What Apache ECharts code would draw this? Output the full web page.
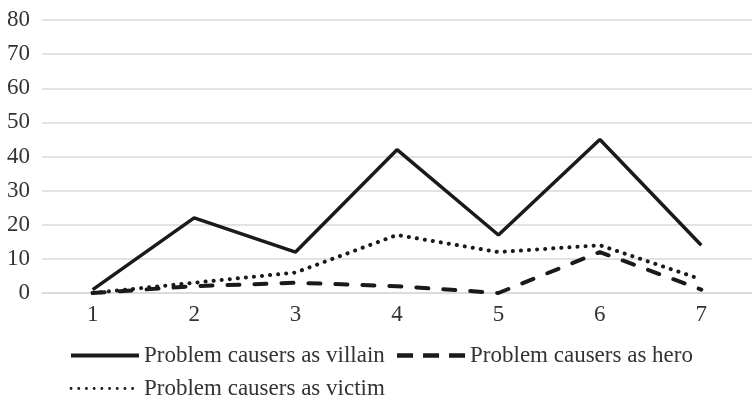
<!DOCTYPE html>
<html>
<head>
<meta charset="utf-8">
<script src="https://cdn.jsdelivr.net/npm/echarts@6/dist/echarts.min.js"></script>
<style>
html,body{margin:0;padding:0;background:#fff;}
#chart{width:752px;height:407px;}
</style>
</head>
<body>
<div id="chart"></div>
<script>
var categories = ['1', '2', '3', '4', '5', '6', '7'];
var villain = [1, 22, 12, 42, 17, 45, 14];
var hero = [0, 2, 3, 2, 0, 12, 1];
var victim = [0, 3, 6, 17, 12, 14, 4];
var seriesNames = ['Problem causers as villain', 'Problem causers as hero', 'Problem causers as victim'];

var font = 'Liberation Serif, Times New Roman, serif';
var ink = '#1a1a1a';
var chart = echarts.init(document.getElementById('chart'), null, {renderer: 'canvas'});
chart.setOption({
  animation: false,
  backgroundColor: '#ffffff',
  grid: {left: 42, right: -10, top: 20, bottom: 114, containLabel: false},
  legend: {
    left: 64,
    top: 339,
    width: 640,
    itemWidth: 68,
    itemHeight: 20,
    itemGap: 10,
    textStyle: {fontFamily: font, fontSize: 23, color: '#333333'},
    itemStyle: {opacity: 0},
    data: [
      {name: seriesNames[0], itemStyle: {opacity: 0}, lineStyle: {color: ink, width: 4, type: 'solid'}},
      {name: seriesNames[1], itemStyle: {opacity: 0}, lineStyle: {color: ink, width: 4.5, type: [16, 10], cap: 'butt'}},
      {name: seriesNames[2], itemStyle: {opacity: 0}, lineStyle: {color: ink, width: 2.8, type: [0.1, 7.6], cap: 'round'}}
    ]
  },
  xAxis: {
    type: 'category',
    data: categories,
    boundaryGap: true,
    axisLine: {show: true, lineStyle: {color: '#d9d9d9', width: 1.5}},
    axisTick: {show: false},
    axisLabel: {fontFamily: font, fontSize: 23, color: '#333333', margin: 10},
    splitLine: {show: false}
  },
  yAxis: {
    type: 'value',
    min: 0, max: 80, interval: 10,
    axisLine: {show: false},
    axisTick: {show: false},
    axisLabel: {fontFamily: font, fontSize: 23, color: '#333333', margin: 12},
    splitLine: {lineStyle: {color: '#d9d9d9', width: 1.5}}
  },
  series: [
    {name: seriesNames[0], type: 'line', data: villain, symbol: 'none',
     lineStyle: {color: ink, width: 3.5, type: 'solid'}, itemStyle: {color: ink}, z: 3},
    {name: seriesNames[1], type: 'line', data: hero, symbol: 'none',
     lineStyle: {color: ink, width: 4, type: [12, 15], cap: 'round'}, itemStyle: {color: ink}, z: 2},
    {name: seriesNames[2], type: 'line', data: victim, symbol: 'none',
     lineStyle: {color: ink, width: 4, type: [0.1, 8], cap: 'round'}, itemStyle: {color: ink}, z: 2}
  ]
});
</script>
</body>
</html>
